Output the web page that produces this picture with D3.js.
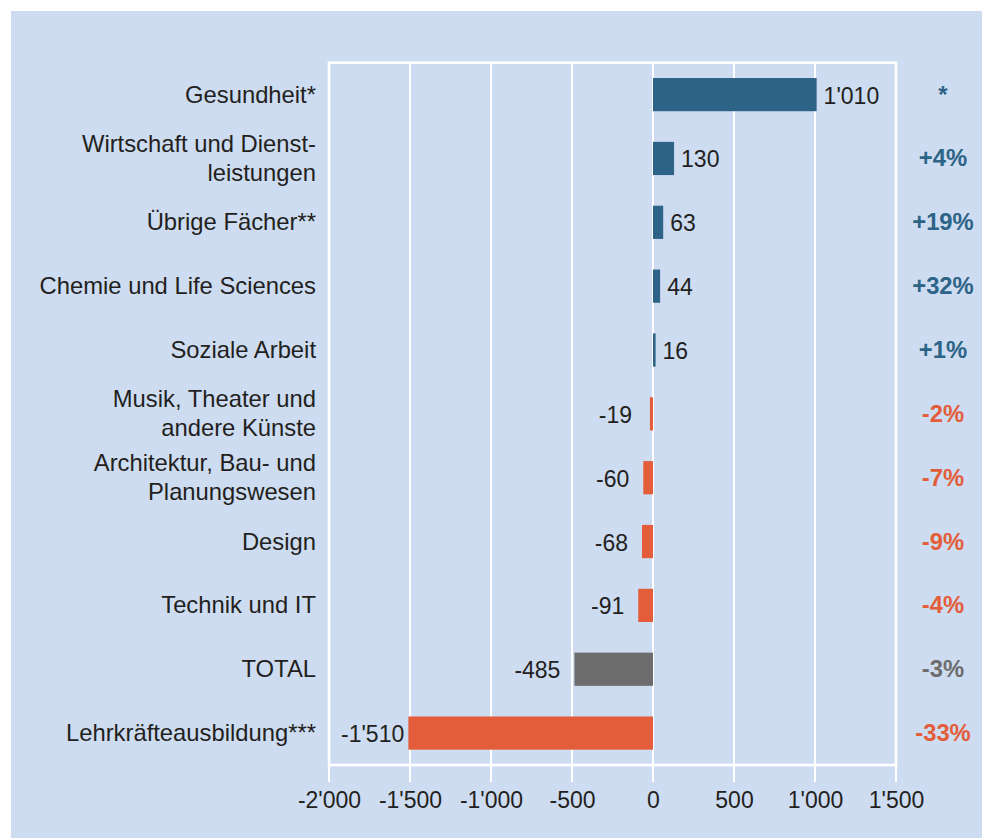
<!DOCTYPE html>
<html lang="de">
<head>
<meta charset="utf-8">
<title>Veränderung Studierende nach Fachbereich</title>
<style>
  body { margin: 0; background: #ffffff; }
  svg { display: block; font-family: "Liberation Sans", Arial, Helvetica, sans-serif; }
</style>
<script src="https://d3js.org/d3.v7.min.js"></script>
</head>
<body>
<svg id="chart" width="982" height="838"></svg>
<script>
// data
const categories = [
  "Gesundheit*",
  "Wirtschaft und Dienst-\nleistungen",
  "Übrige Fächer**",
  "Chemie und Life Sciences",
  "Soziale Arbeit",
  "Musik, Theater und\nandere Künste",
  "Architektur, Bau- und\nPlanungswesen",
  "Design",
  "Technik und IT",
  "TOTAL",
  "Lehrkräfteausbildung***"
];
const values = [1010, 130, 63, 44, 16, -19, -60, -68, -91, -485, -1510];
const changes = ["*", "+4%", "+19%", "+32%", "+1%", "-2%", "-7%", "-9%", "-4%", "-3%", "-33%"];
const tickValues = [-2000, -1500, -1000, -500, 0, 500, 1000, 1500];
const totalName = "TOTAL";

const colPos = "#2c6387", colNeg = "#e35d3a", colTotal = "#6d6d6d";
const textCol = "#231f20";

const rows = categories.map((c, i) => ({ name: c, value: values[i], change: changes[i] }));

const fmt = d3.formatLocale({ decimal: ".", thousands: "'", grouping: [3], currency: ["", ""], minus: "-" }).format(",d");

const svg = d3.select("#chart");
const pLeft = 329, pRight = 896, pTop = 62.7, pBottom = 765;

svg.append("rect").attr("x", 11).attr("y", 11).attr("width", 971).attr("height", 827).attr("fill", "#cddcf0");

const x = d3.scaleLinear().domain([-2000, 1500]).range([pLeft, pRight]);
const y = d3.scaleBand().domain(categories).range([pTop, pBottom]).paddingInner(0.48).paddingOuter(0.24);

function colorOf(d) {
  if (d.name === totalName) return colTotal;
  return d.value >= 0 ? colPos : colNeg;
}

// grid + ticks
svg.append("g").selectAll("line").data(tickValues).join("line")
  .attr("x1", d => x(d)).attr("x2", d => x(d))
  .attr("y1", pTop).attr("y2", pBottom + 17)
  .attr("stroke", "#fff").attr("stroke-width", 2);

// frame
svg.append("rect").attr("x", pLeft).attr("y", pTop)
  .attr("width", pRight - pLeft).attr("height", pBottom - pTop)
  .attr("fill", "none").attr("stroke", "#fff").attr("stroke-width", 2.6);

// axis labels
const axis = d3.axisBottom(x).tickValues(tickValues).tickFormat(fmt).tickSize(0).tickPadding(0);
const ag = svg.append("g").attr("transform", `translate(0,${pBottom})`).call(axis);
ag.select(".domain").remove();
ag.selectAll("text").attr("dy", null).attr("y", 43)
  .attr("font-size", 23).attr("fill", textCol);
ag.attr("font-family", null).attr("font-size", null);

// bars
svg.append("g").selectAll("rect").data(rows).join("rect")
  .attr("x", d => x(Math.min(0, d.value)))
  .attr("width", d => Math.abs(x(d.value) - x(0)))
  .attr("y", d => y(d.name))
  .attr("height", y.bandwidth())
  .attr("fill", colorOf);

// value labels
const vl = svg.append("g").selectAll("text").data(rows).join("text")
  .attr("font-size", 23).attr("fill", textCol)
  .attr("y", d => y(d.name) + y.bandwidth() / 2 + 9)
  .text(d => fmt(d.value));
vl.each(function (d) {
  const t = d3.select(this);
  if (d.value >= 0) {
    t.attr("x", x(d.value) + 7).attr("text-anchor", "start");
  } else {
    const w = this.getComputedTextLength();
    let end = Math.min(x(0) - 21, x(d.value) - 14);
    end = Math.max(end, pLeft + 12 + w);
    t.attr("x", end).attr("text-anchor", "end");
  }
});

// category labels
const cl = svg.append("g").selectAll("text").data(rows).join("text")
  .attr("font-size", 23.8).attr("fill", textCol).attr("text-anchor", "end")
  .attr("x", 316);
cl.each(function (d) {
  const lines = d.name.split("\n");
  const cy = y(d.name) + y.bandwidth() / 2;
  const lh = 29;
  d3.select(this).selectAll("tspan").data(lines).join("tspan")
    .attr("x", 316)
    .attr("y", (l, i) => cy + 8 + (i - (lines.length - 1) / 2) * lh)
    .text(l => l);
});

// change labels
svg.append("g").selectAll("text").data(rows).join("text")
  .attr("font-size", 23.8).attr("font-weight", "bold").attr("text-anchor", "middle")
  .attr("fill", colorOf)
  .attr("x", 943)
  .attr("y", d => y(d.name) + y.bandwidth() / 2 + 8)
  .text(d => d.change);
</script>
</body>
</html>
